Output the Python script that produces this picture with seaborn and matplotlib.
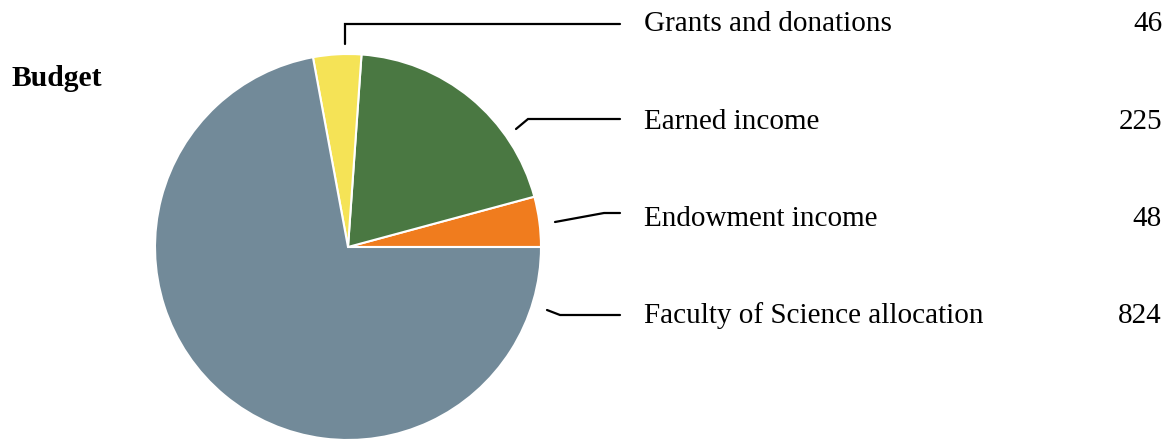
import matplotlib
matplotlib.use("Agg")
import matplotlib.pyplot as plt
import seaborn as sns

# budget data, in slice order (counter-clockwise from 3 o'clock)
categories = ["Endowment income", "Earned income", "Grants and donations", "Faculty of Science allocation"]
values = [48, 225, 46, 824]
colors = ["#F07C1E", "#4A7842", "#F5E356", "#728A99"]

# legend rows, top to bottom
label_order = ["Grants and donations", "Earned income", "Endowment income", "Faculty of Science allocation"]

sns.set_theme(style="white")
plt.rcParams["font.family"] = ["Liberation Serif", "DejaVu Serif"]
plt.rcParams["text.color"] = "black"

W, H = 1166, 441
fig = plt.figure(figsize=(W / 100, H / 100), dpi=100)

# pie axes: center ~ (348, 247) px, radius ~193 px
cx, cy, r = 348, 247, 193
ax = fig.add_axes([(cx - r) / W, (H - cy - r) / H, 2 * r / W, 2 * r / H])
ax.pie(values, colors=colors, startangle=0, counterclock=True, radius=1,
       wedgeprops=dict(edgecolor="white", linewidth=1.5))
ax.set_xlim(-1, 1)
ax.set_ylim(-1, 1)
ax.set_aspect("equal")
ax.axis("off")

# overlay in pixel coordinates for labels and leader lines
ov = fig.add_axes([0, 0, 1, 1], facecolor="none")
ov.set_xlim(0, W)
ov.set_ylim(H, 0)
ov.axis("off")

ov.text(12, 79, "Budget", fontsize=21.3, fontweight="bold", va="center", ha="left", color="black")

row_y = [24, 122, 219, 316]
leaders = [
    [(345, 44), (345, 24), (620, 24)],
    [(516, 129), (528, 119), (620, 119)],
    [(555, 222), (604, 213), (620, 213)],
    [(547, 310), (560, 315), (620, 315)],
]
for name, y, pts in zip(label_order, row_y, leaders):
    v = values[categories.index(name)]
    xs, ys = zip(*pts)
    ov.plot(xs, ys, color="black", lw=1.6, solid_joinstyle="miter")
    ov.text(644, y, name, fontsize=21, va="center", ha="left", color="black")
    ov.text(1162, y, str(v), fontsize=21, va="center", ha="right", color="black")

fig.savefig("out.png", dpi=100)
